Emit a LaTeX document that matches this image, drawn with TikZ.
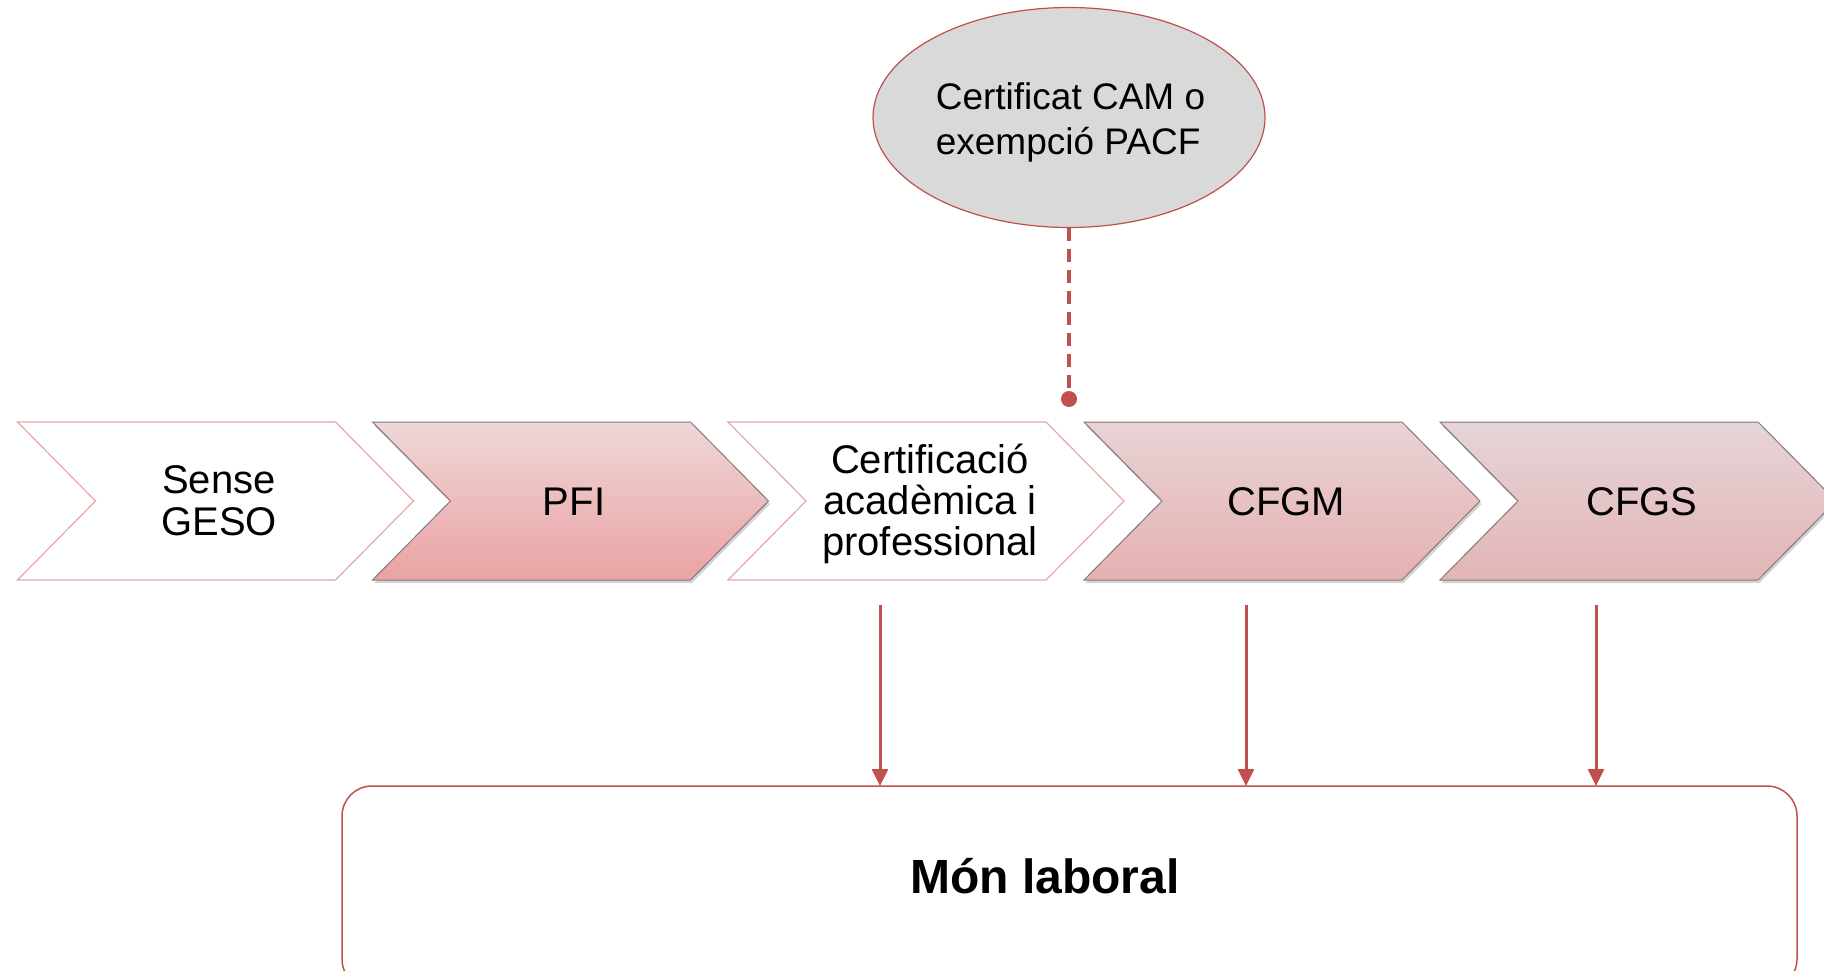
\documentclass[tikz,border=0pt]{standalone}
\usepackage{fontspec}
\setmainfont{Liberation Sans}
\usetikzlibrary{shapes.geometric,shadows,arrows.meta,calc}
\definecolor{accent}{HTML}{C0504D}
\definecolor{chevline}{HTML}{E6A8A8}
\definecolor{chevgray}{HTML}{857878}
\definecolor{ellfill}{HTML}{D9D9D9}
\definecolor{pfitop}{HTML}{EED7D8}
\definecolor{pfibot}{HTML}{EBA2A3}
\definecolor{gmtop}{HTML}{E8D3D5}
\definecolor{gmbot}{HTML}{E5B1B2}
\definecolor{gstop}{HTML}{E5D5D8}
\definecolor{gsbot}{HTML}{E3B4B6}
\newcommand\chevpath[1]{(#1,422) -- (#1+318,422) -- (#1+396,501) -- (#1+318,580) -- (#1,580) -- (#1+78,501) -- cycle}
\begin{document}
\begin{tikzpicture}[x=1pt,y=-1pt,
  whitechev/.style={draw=chevline, fill=white, line width=1.2pt},
  shadechev/.style={draw=chevgray, line width=1pt,
    drop shadow={opacity=0.35, shadow xshift=1.5pt, shadow yshift=-3pt}},
  chevtext/.style={inner sep=0pt, outer sep=0pt, align=center, font=\fontsize{40}{42.5}\selectfont},
  arr/.style={draw=accent, line width=3pt, -{Triangle[width=16pt,length=17pt]}},
]
\useasboundingbox (0,0) rectangle (1824,971);
\clip (0,0) rectangle (1824,971);

% chevrons
\path[whitechev] \chevpath{17.5};
\path[shadechev, top color=pfitop, bottom color=pfibot] \chevpath{372.5};
\path[whitechev] \chevpath{728};
\path[shadechev, top color=gmtop, bottom color=gmbot] \chevpath{1084};
\path[shadechev, top color=gstop, bottom color=gsbot] \chevpath{1440};

% chevron texts
\node[chevtext] (sense) at (219,500.5) {Sense\\GESO};
\node[chevtext, anchor=base] (pfi) at (574,515) {PFI};
\node[chevtext, font=\fontsize{40}{41}\selectfont] (cert) at (930,504) {Certificació\\acadèmica i\\professional};
\node[chevtext, anchor=base] (cfgm) at (1286,515) {CFGM};
\node[chevtext, anchor=base] (cfgs) at (1642,515) {CFGS};

% ellipse
\node[ellipse, draw=accent, fill=ellfill, line width=1.2pt, minimum width=392pt, minimum height=220pt, inner sep=0pt, outer sep=0pt] (cam) at (1069,117.5) {};
\node[inner sep=0pt, align=left, font=\fontsize{37}{45}\selectfont] (camtext) at (1070.5,122) {Certificat CAM o\\exempció PACF};
\node[circle, fill=accent, inner sep=0pt, minimum size=16pt] (dot) at (1069,399) {};
\draw[accent, line width=4pt, dash pattern=on 13pt off 8pt] (cam.south) -- (dot.center);

% bottom box
\node[draw=accent, line width=1.5pt, rounded corners=30pt, minimum width=1455pt, minimum height=203pt, inner sep=0pt, outer sep=0pt] (mon) at (1069.5,887.5) {};
\node[inner sep=0pt, anchor=base, font=\fontsize{48}{50}\selectfont\bfseries] (montext) at (1045,893) {Món laboral};

% arrows
\coordinate (s1) at (880,605);
\coordinate (s2) at (1246,605);
\coordinate (s3) at (1596,605);
\draw[arr] (s1) -- (s1 |- mon.north);
\draw[arr] (s2) -- (s2 |- mon.north);
\draw[arr] (s3) -- (s3 |- mon.north);
\end{tikzpicture}
\end{document}
